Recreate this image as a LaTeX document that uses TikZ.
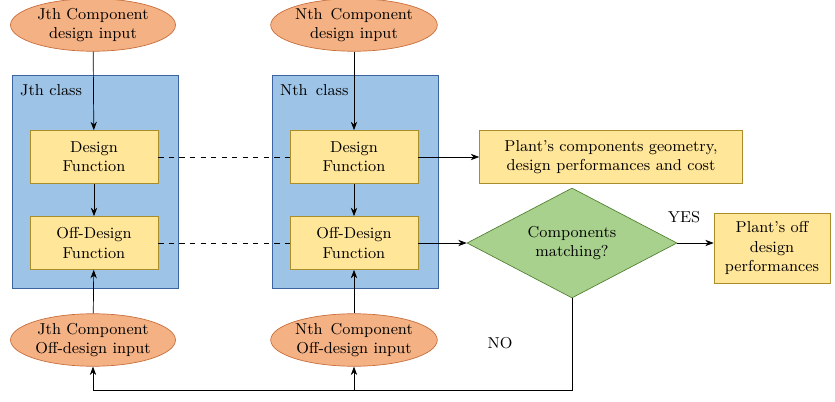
\documentclass[tikz,border=0pt]{standalone}
\usepackage{tikz}
\usetikzlibrary{arrows.meta,shapes,positioning,calc}
\definecolor{inorange}{RGB}{244,177,131}
\definecolor{inorangeb}{RGB}{200,110,60}
\definecolor{clblue}{RGB}{157,195,230}
\definecolor{clblueb}{RGB}{60,100,160}
\definecolor{fnyellow}{RGB}{255,230,153}
\definecolor{fnyellowb}{RGB}{170,140,40}
\definecolor{chgreen}{RGB}{169,209,142}
\definecolor{chgreenb}{RGB}{84,130,53}

\begin{document}
\begin{tikzpicture}[
    x=0.02cm, y=-0.02cm,
    font=\small,
    input/.style={ellipse, draw=inorangeb, fill=inorange, minimum width=3.3cm, minimum height=1.05cm, align=center, inner sep=0pt},
    func/.style={rectangle, draw=fnyellowb, fill=fnyellow, minimum width=2.56cm, minimum height=1.06cm, align=center},
    result/.style={rectangle, draw=fnyellowb, fill=fnyellow, align=center},
    check/.style={diamond, draw=chgreenb, fill=chgreen, minimum width=4.2cm, minimum height=2.2cm, aspect=2, align=center, inner sep=0pt},
    class/.style={rectangle, draw=clblueb, fill=clblue},
    arrow/.style={-{Stealth}, thin},
    link/.style={dashed, thin}
]
    \useasboundingbox (0,0) rectangle (835,402);
    % Class boxes
    \draw[class] (12,75) rectangle (178,288);
    \draw[class] (272,75) rectangle (438,288);
    \node[anchor=west] (jclass) at (14,90) {Jth class};
    \node[anchor=west] (nclass) at (274,90) {Nth\, class};

    % Inputs
    \node[input] (jin) at (93,25) {Jth Component\\design input};
    \node[input] (nin) at (354,25) {Nth\, Component\\design input};
    \node[input] (joff) at (93,340) {Jth Component\\Off-design input};
    \node[input] (noff) at (354,340) {Nth\, Component\\Off-design input};

    % Functions
    \node[func] (jdes) at (94,157) {Design\\Function};
    \node[func] (ndes) at (354,157) {Design\\Function};
    \node[func] (joffd) at (94,243) {Off-Design\\Function};
    \node[func] (noffd) at (354,243) {Off-Design\\Function};

    % Results
    \node[result, minimum width=5.26cm, minimum height=1.06cm] (geom) at (611,157) {Plant's components geometry,\\design performances and cost};
    \node[check] (match) at (572,243) {Components\\matching?};
    \node[result, minimum width=2.32cm, minimum height=1.4cm] (perf) at (772,248) {Plant's off\\design\\performances};
    \node (yes) at (684,217) {YES};
    \node (no) at (500,343) {NO};
    \coordinate (loop) at (572,390);

    % Arrows
    \draw[arrow] (jin) -- (jdes);
    \draw[arrow] (nin) -- (ndes);
    \draw[arrow] (jdes) -- (joffd);
    \draw[arrow] (ndes) -- (noffd);
    \draw[arrow] (joff) -- (joffd);
    \draw[arrow] (noff) -- (noffd);
    \draw[link] (jdes) -- (ndes);
    \draw[link] (joffd) -- (noffd);
    \draw[arrow] (ndes) -- (geom);
    \draw[arrow] (noffd) -- (match);
    \draw[arrow] (match.east) -- (perf.west |- match.east);
    \draw[arrow] (match.south) -- (loop) -| (joff.south);
    \draw[arrow] (noff.south |- loop) -- (noff.south);
\end{tikzpicture}
\end{document}
